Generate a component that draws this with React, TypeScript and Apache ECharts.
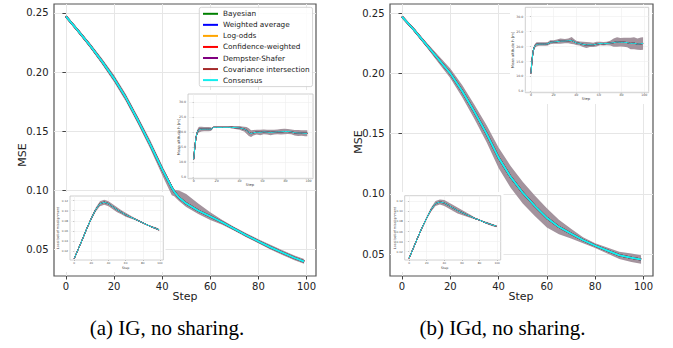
import React, { useEffect, useRef } from "react";
import * as echarts from "echarts";

// ---------- data ----------
const methods = [
  "Bayesian",
  "Weighted average",
  "Log-odds",
  "Confidence-weighted",
  "Dempster-Shafer",
  "Covariance intersection",
  "Consensus",
];
const methodColors = ["#008000", "#0000ff", "#ffa500", "#ff0000", "#800080", "#a52a2a", "#12eeee"];

const stepTicks = [0, 20, 40, 60, 80, 100];
const mseTicks = [0.05, 0.1, 0.15, 0.2, 0.25];
const altTicks = [5, 10, 15, 20, 25, 30];
const misTicks = [0.02, 0.04, 0.06, 0.08, 0.1, 0.12];

// (a) IG main MSE
const mseLeftSteps = [0, 5, 10, 15, 20, 25, 30, 35, 40, 44, 45, 47, 50, 55, 60, 65, 70, 75, 80, 85, 90, 95, 99];
const mseLeftMean = [0.247, 0.235, 0.2225, 0.209, 0.1945, 0.178, 0.159, 0.139, 0.118, 0.1025, 0.099, 0.094, 0.089, 0.083, 0.078, 0.073, 0.0675, 0.062, 0.057, 0.052, 0.0475, 0.043, 0.04];
const mseLeftLow = [0.2462, 0.2335, 0.2205, 0.2065, 0.1915, 0.175, 0.156, 0.1355, 0.113, 0.096, 0.095, 0.091, 0.086, 0.08, 0.075, 0.071, 0.066, 0.0605, 0.0553, 0.05, 0.0455, 0.041, 0.038];
const mseLeftHigh = [0.2478, 0.2365, 0.2245, 0.2115, 0.1975, 0.181, 0.162, 0.1425, 0.121, 0.1045, 0.1005, 0.1, 0.097, 0.089, 0.0815, 0.075, 0.069, 0.0638, 0.0588, 0.054, 0.0495, 0.045, 0.042];

// (b) IGd main MSE
const mseRightSteps = [0, 5, 10, 15, 20, 25, 30, 35, 40, 45, 50, 55, 60, 65, 70, 75, 80, 85, 90, 95, 99];
const mseRightMean = [0.247, 0.236, 0.224, 0.212, 0.2, 0.185, 0.168, 0.15, 0.13, 0.114, 0.101, 0.09, 0.08, 0.0725, 0.067, 0.0615, 0.057, 0.053, 0.049, 0.047, 0.0455];
const mseRightLow = [0.2462, 0.2345, 0.222, 0.209, 0.196, 0.18, 0.162, 0.143, 0.1215, 0.105, 0.092, 0.0815, 0.072, 0.0665, 0.063, 0.059, 0.055, 0.0505, 0.046, 0.0435, 0.042];
const mseRightHigh = [0.2478, 0.2375, 0.226, 0.215, 0.204, 0.19, 0.174, 0.157, 0.1385, 0.123, 0.11, 0.0985, 0.088, 0.0785, 0.071, 0.064, 0.059, 0.0555, 0.052, 0.0505, 0.049];

// (a) inset: mean altitude
const altLeftSteps = [0, 1, 2, 3, 4, 5, 7, 9, 11, 13, 15, 16, 17, 20, 25, 30, 33, 36, 40, 42, 44, 46, 48, 50, 52, 55, 58, 61, 64, 67, 70, 73, 76, 79, 82, 85, 88, 91, 94, 97, 99];
const altLeftMean = [11.0, 15.0, 18.2, 19.8, 20.6, 20.9, 21.0, 21.0, 21.0, 21.0, 21.0, 21.1, 21.6, 21.6, 21.6, 21.6, 21.6, 21.5, 21.4, 21.2, 21.0, 20.6, 20.0, 19.5, 19.8, 20.0, 19.9, 20.1, 20.0, 19.9, 20.0, 20.1, 20.1, 20.2, 20.2, 20.1, 19.8, 19.7, 19.7, 19.6, 19.6];
const altLeftSpread = [0.1, 0.3, 0.6, 0.8, 0.9, 0.9, 0.8, 0.7, 0.7, 0.7, 0.6, 0.3, 0.1, 0.05, 0.05, 0.1, 0.4, 0.5, 0.6, 0.7, 0.8, 1.1, 1.3, 1.1, 0.9, 0.8, 0.9, 0.8, 0.8, 0.9, 0.8, 0.8, 0.9, 0.9, 0.8, 0.8, 0.9, 1.0, 0.9, 1.0, 1.0];

// (b) inset: mean altitude
const altRightSteps = [0, 1, 2, 3, 4, 5, 7, 9, 11, 13, 15, 17, 20, 23, 26, 30, 33, 36, 38, 40, 43, 46, 49, 52, 55, 58, 61, 64, 67, 70, 73, 76, 79, 82, 85, 88, 91, 94, 97, 99];
const altRightMean = [11.0, 15.5, 18.5, 19.8, 20.4, 20.7, 20.8, 20.8, 20.8, 20.8, 20.9, 21.4, 21.5, 21.6, 21.8, 21.8, 21.9, 22.0, 21.6, 21.2, 21.0, 20.7, 20.5, 20.6, 20.5, 20.8, 21.0, 20.9, 21.0, 21.1, 21.3, 21.5, 21.4, 21.4, 21.3, 21.0, 21.1, 20.8, 20.9, 21.0];
const altRightSpread = [0.1, 0.3, 0.6, 0.7, 0.7, 0.7, 0.6, 0.6, 0.6, 0.6, 0.6, 0.7, 0.6, 0.7, 0.9, 0.7, 0.8, 1.2, 0.9, 0.7, 0.7, 0.9, 1.0, 0.8, 0.7, 0.8, 0.6, 0.6, 0.6, 0.8, 1.4, 1.6, 1.4, 1.5, 1.6, 1.9, 2.0, 1.9, 2.1, 2.1];

// insets: local belief misalignment
const misSteps = [0, 5, 10, 15, 20, 25, 30, 35, 40, 45, 50, 55, 60, 65, 70, 75, 80, 85, 90, 95, 99];
const misLeftMean = [0.005, 0.025, 0.045, 0.066, 0.085, 0.102, 0.114, 0.117, 0.114, 0.108, 0.102, 0.097, 0.092, 0.088, 0.084, 0.08, 0.076, 0.072, 0.068, 0.065, 0.062];
const misLeftSpread = [0.0003, 0.0005, 0.001, 0.002, 0.003, 0.004, 0.005, 0.005, 0.005, 0.005, 0.005, 0.004, 0.004, 0.003, 0.002, 0.0015, 0.001, 0.001, 0.0015, 0.002, 0.002];
const misRightMean = [0.006, 0.027, 0.048, 0.068, 0.086, 0.103, 0.115, 0.118, 0.116, 0.111, 0.106, 0.101, 0.097, 0.093, 0.089, 0.085, 0.082, 0.078, 0.075, 0.072, 0.07];
const misRightSpread = [0.0003, 0.0005, 0.001, 0.002, 0.003, 0.004, 0.005, 0.005, 0.006, 0.006, 0.006, 0.006, 0.005, 0.004, 0.003, 0.0015, 0.001, 0.0015, 0.002, 0.002, 0.002];

// ---------- styling ----------
const FONT = "DejaVu Sans";
const BAND = "#a3939d";

function mainXAxis(gridIndex: number) {
  return {
    type: "value",
    gridIndex,
    min: -4.95,
    max: 103.95,
    z: 1,
    axisLine: { show: false },
    axisTick: { show: true, length: 3.5, lineStyle: { color: "#444", width: 1 }, customValues: stepTicks },
    axisLabel: { customValues: stepTicks, fontSize: 10, color: "#222", fontFamily: FONT, margin: 5 },
    splitLine: { show: true, lineStyle: { color: "#e6e6e6", width: 1 } },
  };
}
function mainYAxis(gridIndex: number, min: number, max: number) {
  return {
    type: "value",
    gridIndex,
    min,
    max,
    z: 1,
    axisLine: { show: false },
    axisTick: { show: true, length: 3.5, lineStyle: { color: "#444", width: 1 }, customValues: mseTicks },
    axisLabel: {
      customValues: mseTicks,
      fontSize: 10,
      color: "#222",
      fontFamily: FONT,
      margin: 5.5,
      formatter: (v: number) => v.toFixed(2),
    },
    splitLine: { show: true, lineStyle: { color: "#e6e6e6", width: 1 } },
  };
}
function insetXAxis(gridIndex: number, fs: number) {
  return {
    type: "value",
    gridIndex,
    min: -4.95,
    max: 103.95,
    z: 7,
    axisLine: { show: false },
    axisTick: { show: true, length: 1, lineStyle: { color: "#999", width: 0.6 }, customValues: stepTicks },
    axisLabel: { customValues: stepTicks, fontSize: fs, color: "#555", fontFamily: FONT, margin: 1 },
    splitLine: { show: true, lineStyle: { color: "#efefef", width: 0.6 } },
  };
}
function insetYAxis(gridIndex: number, min: number, max: number, ticks: number[], digits: number, fs: number) {
  return {
    type: "value",
    gridIndex,
    min,
    max,
    z: 7,
    axisLine: { show: false },
    axisTick: { show: true, length: 1, lineStyle: { color: "#999", width: 0.6 }, customValues: ticks },
    axisLabel: {
      customValues: ticks,
      fontSize: fs,
      color: "#555",
      fontFamily: FONT,
      margin: 2,
      formatter: (v: number) => v.toFixed(digits),
    },
    splitLine: { show: true, lineStyle: { color: "#efefef", width: 0.6 } },
  };
}

function bandSeries(idx: number, steps: number[], lo: number[], hi: number[], z: number) {
  return {
    type: "custom",
    name: "band" + idx,
    xAxisIndex: idx,
    yAxisIndex: idx,
    z,
    silent: true,
    data: steps.map((s, i) => [s, lo[i], hi[i]]),
    encode: { x: 0, y: [1, 2] },
    renderItem: (params: any, api: any) => {
      if (params.dataIndex !== 0) return null;
      const up = steps.map((s, i) => api.coord([s, hi[i]]));
      const down = steps.map((s, i) => api.coord([s, lo[i]])).reverse();
      return { type: "polygon", shape: { points: up.concat(down) }, style: { fill: BAND } };
    },
  };
}
function methodLines(idx: number, steps: number[], mean: number[], width: number, z: number) {
  return methods.map((m, k) => ({
    type: "line",
    name: m,
    xAxisIndex: idx,
    yAxisIndex: idx,
    z: z + (k === methods.length - 1 ? 1 : 0),
    symbol: "none",
    silent: true,
    color: methodColors[k],
    lineStyle: { color: methodColors[k], width },
    data: steps.map((s, i) => [s, mean[i]]),
  }));
}

function txt(text: string, x: number, y: number, size: number, opts: any = {}) {
  return {
    type: "text",
    x,
    y,
    rotation: opts.rot || 0,
    z: 20,
    silent: true,
    style: {
      text,
      fontSize: size,
      fontFamily: opts.family || FONT,
      fill: opts.color || "#222",
      align: "center",
      verticalAlign: "middle",
      textAlign: "center",
      textVerticalAlign: "middle",
    },
  };
}
function whiteRect(x: number, y: number, w: number, h: number) {
  return { type: "rect", z: 4, silent: true, shape: { x, y, width: w, height: h }, style: { fill: "#ffffff" } };
}

export default function App() {
  const ref = useRef<HTMLDivElement>(null);
  useEffect(() => {
    if (!ref.current) return;
    const chart = echarts.init(ref.current, undefined, { renderer: "svg" });
    const mainGrid = { show: true, borderColor: "#555", borderWidth: 1.2, backgroundColor: "transparent", z: 0 };
    const insetGrid = { show: true, borderColor: "#c4c4c4", borderWidth: 0.8, backgroundColor: "#fff", z: 6 };

    const lo = (m: number[], s: number[]) => m.map((v, i) => v - s[i]);
    const hi = (m: number[], s: number[]) => m.map((v, i) => v + s[i]);

    const option: any = {
      animation: false,
      backgroundColor: "#fff",
      grid: [
        { ...mainGrid, left: 54, top: 4, width: 262, height: 272 },
        { ...mainGrid, left: 390, top: 4, width: 263, height: 272 },
        { ...insetGrid, left: 188, top: 94, width: 125, height: 84.7 },
        { ...insetGrid, left: 70, top: 196, width: 93.3, height: 64 },
        { ...insetGrid, left: 525.3, top: 7.3, width: 123.4, height: 85.4 },
        { ...insetGrid, left: 404.7, top: 195.7, width: 96, height: 64.3 },
      ],
      xAxis: [mainXAxis(0), mainXAxis(1), insetXAxis(2, 3.2), insetXAxis(3, 2.8), insetXAxis(4, 3.2), insetXAxis(5, 2.8)],
      yAxis: [
        mainYAxis(0, 0.0277, 0.2575),
        mainYAxis(1, 0.0318, 0.2575),
        insetYAxis(2, 4.54, 32.66, altTicks, 1, 3.2),
        insetYAxis(3, 0.0021, 0.1293, misTicks, 2, 2.8),
        insetYAxis(4, 4.53, 33.1, altTicks, 1, 3.2),
        insetYAxis(5, 0.0027, 0.1305, misTicks, 2, 2.8),
      ],
      legend: {
        data: methods,
        orient: "vertical",
        left: 199.3,
        top: 7.3,
        padding: [2, 3, 2, 3.7],
        itemWidth: 15,
        itemHeight: 2,
        itemGap: 2.05,
        icon: "rect",
        z: 20,
        backgroundColor: "rgba(255,255,255,0.85)",
        borderColor: "#cccccc",
        borderWidth: 0.8,
        borderRadius: 2,
        selectedMode: false,
        textStyle: { fontSize: 7.3, lineHeight: 9, fontFamily: FONT, color: "#222" },
      },
      graphic: {
        elements: [
          whiteRect(178, 90, 137, 100),
          whiteRect(55.5, 192, 110, 80),
          whiteRect(510, 5, 142, 99),
          whiteRect(391.5, 192, 112, 80),
          txt("MSE", 22, 155, 11, { rot: Math.PI / 2 }),
          txt("MSE", 358, 142, 11, { rot: Math.PI / 2 }),
          txt("Step", 185, 296, 11),
          txt("Step", 521, 296, 11),
          txt("Mean altitude h [m]", 179.3, 137, 3.7, { rot: Math.PI / 2, color: "#444" }),
          txt("Step", 250, 185, 3.7, { color: "#444" }),
          txt("Local belief misalignment", 58, 228, 3.3, { rot: Math.PI / 2, color: "#444" }),
          txt("Step", 125.7, 267.7, 3.3, { color: "#444" }),
          txt("Mean altitude h [m]", 513.3, 50, 3.7, { rot: Math.PI / 2, color: "#444" }),
          txt("Step", 586, 99.3, 3.7, { color: "#444" }),
          txt("Local belief misalignment", 394.7, 228, 3.3, { rot: Math.PI / 2, color: "#444" }),
          txt("Step", 444.7, 268, 3.3, { color: "#444" }),
          txt("(a) IG, no sharing.", 167, 328, 21, { family: "Liberation Serif", color: "#000" }),
          txt("(b) IGd, no sharing.", 502.5, 328, 21, { family: "Liberation Serif", color: "#000" }),
        ],
      },
      series: [
        bandSeries(0, mseLeftSteps, mseLeftLow, mseLeftHigh, 2),
        ...methodLines(0, mseLeftSteps, mseLeftMean, 2, 3),
        bandSeries(1, mseRightSteps, mseRightLow, mseRightHigh, 2),
        ...methodLines(1, mseRightSteps, mseRightMean, 2, 3),
        bandSeries(2, altLeftSteps, lo(altLeftMean, altLeftSpread), hi(altLeftMean, altLeftSpread), 8),
        ...methodLines(2, altLeftSteps, altLeftMean, 1, 9),
        bandSeries(3, misSteps, lo(misLeftMean, misLeftSpread), hi(misLeftMean, misLeftSpread), 8),
        ...methodLines(3, misSteps, misLeftMean, 1, 9),
        bandSeries(4, altRightSteps, lo(altRightMean, altRightSpread), hi(altRightMean, altRightSpread), 8),
        ...methodLines(4, altRightSteps, altRightMean, 1, 9),
        bandSeries(5, misSteps, lo(misRightMean, misRightSpread), hi(misRightMean, misRightSpread), 8),
        ...methodLines(5, misSteps, misRightMean, 1, 9),
      ],
    };
    chart.setOption(option);
    return () => chart.dispose();
  }, []);
  return (
    <div
      ref={ref}
      style={{ position: "absolute", left: 0, top: 0, width: 673, height: 348, background: "#fff" }}
    />
  );
}
